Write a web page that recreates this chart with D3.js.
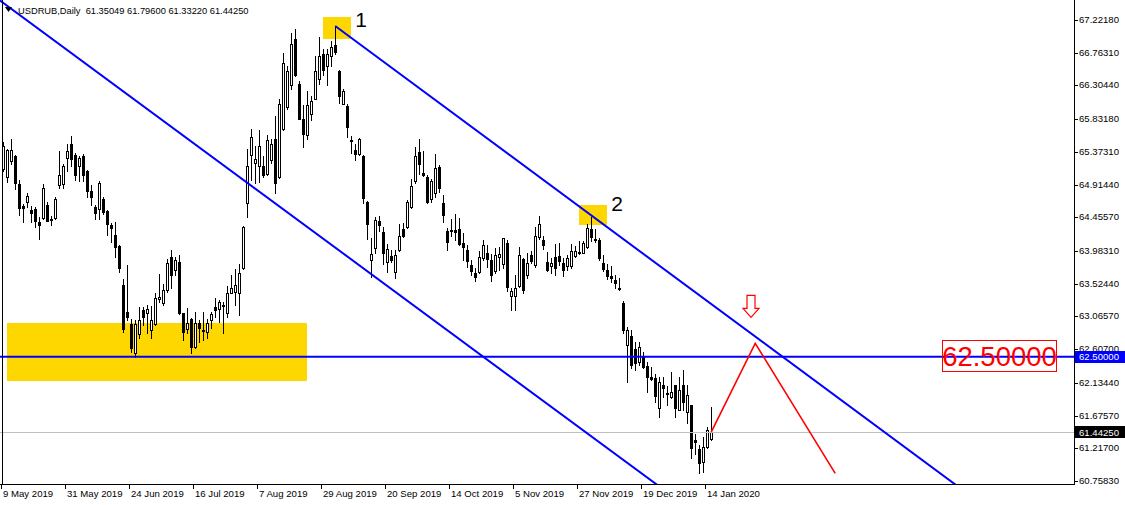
<!DOCTYPE html>
<html><head><meta charset="utf-8">
<script src="https://cdn.jsdelivr.net/npm/d3@7/dist/d3.min.js"></script>
<style>
html,body{margin:0;padding:0;background:#fff;}
svg{display:block;}
text{font-family:"Liberation Sans",Arial,sans-serif;}
</style></head><body>
<svg id="chart" width="1125" height="505"></svg>
<script>
// ---------------- data ----------------
const symbolTitle = "USDRUB,Daily";
const openP = [65.13,65.02,65.24,65.32,64.92,64.61,64.67,64.56,64.57,64.39,64.44,64.63,64.43,64.44,64.91,64.92,65.28,65.49,65.33,65.18,
65.31,65.10,64.83,64.60,64.57,64.71,64.55,64.35,64.21,64.05,63.51,63.13,62.96,62.55,62.82,63.16,63.11,62.87,62.96,63.31,
63.26,63.44,63.90,63.71,63.83,63.11,62.89,63.03,62.64,62.97,62.87,62.85,63.02,63.20,63.17,63.22,63.11,63.40,63.41,63.40,
63.74,64.65,65.33,65.21,65.17,65.18,65.06,65.26,65.56,65.02,65.70,66.00,66.31,66.96,66.32,65.84,65.61,65.90,66.12,66.39,
66.75,66.57,66.72,66.87,66.51,66.05,66.02,65.54,65.40,65.34,65.32,64.67,63.86,64.02,64.40,64.25,63.83,63.91,63.69,64.00,
64.29,64.32,64.60,64.96,65.37,65.07,65.02,64.71,64.79,65.16,64.66,64.26,64.27,64.28,64.29,64.09,64.00,63.78,63.67,63.69,
63.88,63.95,63.86,63.70,63.90,63.80,64.09,63.35,63.35,63.49,63.87,63.65,63.93,63.79,64.18,64.14,63.83,63.77,63.90,63.91,
63.82,63.77,63.77,63.91,63.97,63.96,64.04,64.29,64.15,64.14,63.81,63.72,63.63,63.57,63.46,63.25,62.67,62.79,62.61,62.43,
62.51,62.37,62.21,62.20,61.78,62.10,61.99,61.93,62.10,61.76,62.10,61.73,61.82,61.33,61.21,61.02,61.23,61.35049];
const highP = [65.51,65.41,65.55,65.33,64.98,64.64,64.79,64.61,64.60,64.46,64.92,64.67,64.47,64.74,65.39,65.20,65.49,65.60,65.36,65.31,
65.35,65.12,64.91,64.63,64.96,64.74,64.56,64.38,64.39,64.07,63.59,63.79,63.03,63.02,63.20,63.20,63.23,63.21,63.40,63.66,
63.52,63.87,64.00,63.90,63.93,63.12,63.18,63.04,63.13,63.02,63.13,63.03,63.13,63.33,63.30,63.27,63.49,63.64,63.73,63.80,
64.33,65.42,65.69,65.45,65.68,65.31,65.61,65.55,65.87,66.12,66.76,66.58,67.04,67.09,66.36,66.03,66.22,66.16,66.72,66.98,
66.81,66.81,66.93,67.14,66.52,66.26,66.05,65.60,65.49,65.57,65.33,64.68,64.16,64.46,64.47,64.32,64.08,64.00,64.00,64.36,
64.37,64.70,64.99,65.44,65.56,65.38,65.05,64.99,65.35,65.19,64.77,64.31,64.43,64.50,64.44,64.23,64.07,63.86,63.75,63.98,
64.14,64.07,63.94,64.02,64.04,64.17,64.14,63.47,63.65,64.04,63.89,63.95,63.98,64.32,64.47,64.20,63.97,63.88,64.08,64.10,
63.88,63.93,64.08,64.05,64.12,64.12,64.36,64.46,64.29,64.16,63.93,63.80,63.77,63.65,63.61,63.28,62.92,62.87,62.71,62.71,
62.57,62.43,62.35,62.26,62.21,62.22,62.09,62.29,62.11,62.22,62.32,62.10,61.83,61.42,61.26,61.38,61.52,61.796];
const lowP = [65.10,64.95,65.20,64.85,64.49,64.39,64.60,64.39,64.32,64.15,64.43,64.40,64.35,64.43,64.86,64.87,65.11,65.17,64.98,64.96,
64.96,64.74,64.63,64.43,64.43,64.50,64.21,64.11,63.90,63.69,62.85,63.02,62.56,62.49,62.76,62.95,62.84,62.77,62.95,63.27,
63.23,63.41,63.47,63.65,63.10,62.74,62.83,62.55,62.63,62.71,62.74,62.76,62.90,63.06,62.99,62.83,63.06,63.39,63.23,63.09,
63.73,64.46,64.98,64.93,64.95,65.02,65.05,65.22,64.79,65.00,65.68,65.98,66.25,66.43,65.83,65.44,65.56,65.82,66.11,66.33,
66.45,66.31,66.57,66.75,66.06,66.04,65.58,65.36,65.26,65.33,64.66,64.15,63.62,63.95,64.27,63.80,63.69,63.83,63.60,63.99,
64.18,64.30,64.58,64.94,65.06,65.04,64.66,64.67,64.74,64.81,64.39,64.00,64.20,64.14,64.07,63.86,63.76,63.65,63.56,63.67,
63.86,63.76,63.56,63.67,63.72,63.75,63.42,63.16,63.16,63.48,63.40,63.60,63.82,63.76,64.15,64.01,63.70,63.67,63.65,63.79,
63.63,63.71,63.75,63.90,63.94,63.95,64.02,64.12,64.11,63.86,63.70,63.59,63.55,63.47,63.44,62.83,62.15,62.34,62.32,62.39,
62.34,62.00,62.17,61.87,61.66,61.94,61.82,61.92,61.66,61.75,61.75,61.57,61.08,61.14,60.87,60.88,61.22,61.3322];
const closeP = [65.46,65.40,65.40,64.94,64.59,64.59,64.75,64.52,64.41,64.35,64.86,64.41,64.42,64.71,65.05,65.18,65.39,65.27,65.05,65.28,
65.05,64.83,64.74,64.51,64.94,64.53,64.36,64.30,64.04,63.74,62.89,63.06,62.62,62.96,63.02,63.06,63.17,63.02,63.32,63.34,
63.44,63.81,63.64,63.86,63.12,62.85,62.97,62.64,62.98,62.91,62.86,62.98,63.10,63.16,63.27,63.21,63.40,63.46,63.51,63.67,
64.32,65.17,65.58,65.27,65.45,65.05,65.54,65.48,64.93,66.05,66.62,66.50,66.89,66.45,65.84,65.63,66.03,66.09,66.51,66.72,
66.52,66.75,66.84,66.77,66.16,66.23,65.72,65.52,65.34,65.56,64.72,64.36,63.94,64.42,64.35,63.95,64.01,63.86,63.93,64.19,
64.19,64.67,64.89,65.31,65.20,65.05,64.67,64.97,65.14,64.86,64.49,64.11,64.28,64.25,64.08,64.04,63.84,63.70,63.62,63.90,
64.07,63.87,63.64,63.93,63.94,64.16,63.48,63.42,63.47,63.93,63.43,63.81,63.84,64.19,64.36,64.07,63.71,63.81,63.74,63.84,
63.71,63.89,63.98,63.99,63.96,64.09,64.30,64.18,64.14,63.88,63.73,63.63,63.61,63.53,63.45,62.87,62.87,62.39,62.41,62.64,
62.36,62.22,62.19,61.95,62.15,62.06,61.98,62.01,61.78,62.03,61.87,61.96,61.22,61.30,61.01,61.23,61.47,61.4425];
const dateLabels = ["9 May 2019","31 May 2019","24 Jun 2019","16 Jul 2019","7 Aug 2019","29 Aug 2019",
  "20 Sep 2019","14 Oct 2019","5 Nov 2019","27 Nov 2019","19 Dec 2019","14 Jan 2020"];
const barsPerDateLabel = 16;
const priceTicks = [67.2218,66.7631,66.3044,65.8318,65.3731,64.9144,64.4557,63.9831,63.5244,63.0657,62.6070,62.1344,61.6757,61.2170,60.7583];
const levelPrice = 62.5;
const channelLower = [[0, 67.462],[150, 61.262]];
const channelUpper = [[83, 67.137],[180, 63.115]];
const forecastPath = [[177, 61.4425],[188, 62.689],[208, 60.866]];
const zones = [[1, 76, 62.97, 62.16],[80, 87, 67.26, 66.955],[144, 151, 64.63, 64.347]];
const noteTexts = ["1","2"];
const noteBars = [88, 152];
const notePrices = [67.124, 64.544];
const arrowBar = 187, arrowPrice = 63.053;

// ---------------- layout ----------------
const W = 1125, H = 505;
const plotR = 1074, plotB = 484;
const svg = d3.select("#chart");
const fmt = d3.format(".5f");

const x = d3.scaleLinear().domain([-0.8, plotR/4 - 0.8]).range([0, plotR]);
const y = d3.scaleLinear().domain([60.7583, 67.2218]).range([481, 20]);

svg.append("rect").attr("width", W).attr("height", H).attr("fill", "#fff");
svg.append("defs").append("clipPath").attr("id","plot")
  .append("rect").attr("x",0).attr("y",0).attr("width",plotR).attr("height",plotB);

const plot = svg.append("g").attr("clip-path","url(#plot)");

// yellow zones (background)
plot.selectAll("rect.zone").data(zones).enter().append("rect")
  .attr("class","zone")
  .attr("x", d => Math.round(x(d[0])))
  .attr("width", d => Math.round(x(d[1])) - Math.round(x(d[0])))
  .attr("y", d => Math.round(y(d[2])))
  .attr("height", d => Math.round(y(d[3])) - Math.round(y(d[2])))
  .attr("fill", "#FFD700");

// candles
const bars = d3.range(openP.length).map(i => ({i, o: openP[i], h: highP[i], l: lowP[i], c: closeP[i]}));
const cg = plot.append("g").attr("shape-rendering","crispEdges");
bars.forEach(b => {
  const cx = Math.round(x(b.i));
  const yh = Math.round(y(b.h)), yl = Math.round(y(b.l));
  cg.append("rect").attr("x", cx).attr("y", yh).attr("width", 1).attr("height", Math.max(1, yl - yh + 1)).attr("fill", "#000");
  const top = Math.round(y(Math.max(b.o, b.c))), bot = Math.round(y(Math.min(b.o, b.c)));
  if (bot - top < 1) {
    cg.append("rect").attr("x", cx - 1).attr("y", top).attr("width", 3).attr("height", 1).attr("fill", "#000");
  } else if (b.c < b.o) {
    cg.append("rect").attr("x", cx - 1).attr("y", top).attr("width", 3).attr("height", bot - top + 1).attr("fill", "#000");
  } else {
    cg.append("rect").attr("x", cx - 0.5).attr("y", top + 0.5).attr("width", 2).attr("height", bot - top)
      .attr("fill", "#fff").attr("stroke", "#000").attr("stroke-width", 1);
  }
});

// last price line
const yLast = Math.round(y(closeP[closeP.length-1]));
plot.append("line").attr("x1",0).attr("x2",plotR).attr("y1",yLast+0.5).attr("y2",yLast+0.5)
  .attr("stroke","#c0c0c0").attr("stroke-width",1);

// channel lines (rays)
function ray(pts, fromBar, toBar){
  const [a,b] = pts; const s = (b[1]-a[1])/(b[0]-a[0]);
  return [[fromBar, a[1] + s*(fromBar-a[0])],[toBar, a[1] + s*(toBar-a[0])]];
}
const lineGen = d3.line().x(d => x(d[0])).y(d => y(d[1]));
[ray(channelLower, -2, 400), ray(channelUpper, channelUpper[0][0], 400)].forEach(p => {
  plot.append("path").attr("d", lineGen(p)).attr("fill","none").attr("stroke","#0000FF").attr("stroke-width",2);
});

// horizontal level
const yLvl = y(levelPrice);
plot.append("line").attr("x1",0).attr("x2",plotR).attr("y1",yLvl).attr("y2",yLvl)
  .attr("stroke","#0000FF").attr("stroke-width",2);

// forecast zigzag
plot.append("path").attr("d", lineGen(forecastPath)).attr("fill","none")
  .attr("stroke","#FF0000").attr("stroke-width",1.6);

// arrow
const ax = Math.round(x(arrowBar)), ay = y(arrowPrice);
plot.append("path")
  .attr("d", `M${ax},${ay} L${ax-8},${ay-9} L${ax-4},${ay-9} L${ax-4},${ay-22} L${ax+4},${ay-22} L${ax+4},${ay-9} L${ax+8},${ay-9} Z`)
  .attr("fill","#fff").attr("stroke","#FF0000").attr("stroke-width",1.2);

// numbered notes
noteTexts.forEach((t,k) => {
  plot.append("text").attr("x", x(noteBars[k])).attr("y", y(notePrices[k]))
    .attr("font-size", 21).attr("fill","#000").text(t);
});

// red price label
const lblG = svg.append("g");
lblG.append("rect").attr("x",942.5).attr("y",340.5).attr("width",114).attr("height",31)
  .attr("fill","none").attr("stroke","#FF0000").attr("stroke-width",1);
lblG.append("text").attr("x",999.5).attr("y",366).attr("text-anchor","middle")
  .attr("font-size",27.5).attr("fill","#FF0000").text(fmt(levelPrice));

// header
svg.append("path").attr("d","M5,7 L12,7 L8.5,12 Z").attr("fill","#000");
svg.append("text").attr("x",18).attr("y",14).attr("font-size",9.3).attr("fill","#000")
  .style("white-space","pre")
  .text(symbolTitle + "  " + [openP, highP, lowP, closeP].map(a => fmt(a[a.length-1])).join(" "));

// axes frame
const ax2 = svg.append("g").attr("shape-rendering","crispEdges");
ax2.append("line").attr("x1",2.5).attr("x2",2.5).attr("y1",0).attr("y2",plotB+1).attr("stroke","#000");
ax2.append("line").attr("x1",plotR+0.5).attr("x2",plotR+0.5).attr("y1",0).attr("y2",plotB+1).attr("stroke","#000");
ax2.append("line").attr("x1",0).attr("x2",plotR+1).attr("y1",plotB+0.5).attr("y2",plotB+0.5).attr("stroke","#000");

// right price axis (the 62.60700 label sits under the level tag, as in the reference)
priceTicks.forEach(p => {
  const yy = Math.round(y(p));
  ax2.append("line").attr("x1",plotR+1).attr("x2",plotR+4).attr("y1",yy+0.5).attr("y2",yy+0.5).attr("stroke","#000");
  svg.append("text").attr("x",plotR+5).attr("y",yy).attr("dy","0.35em").attr("font-size",9.6).attr("fill","#000").text(fmt(p));
});

// price tags
function tag(p, bg){
  const yy = y(p);
  svg.append("rect").attr("x",plotR+1).attr("y",Math.round(yy)-6).attr("width",W-plotR-1).attr("height",12).attr("fill",bg);
  svg.append("text").attr("x",plotR+5).attr("y",yy).attr("dy","0.35em").attr("font-size",9.6).attr("fill","#fff").text(fmt(p));
}
tag(levelPrice, "#0000FF");
tag(closeP[closeP.length-1], "#000");

// bottom time axis
dateLabels.forEach((lab,k) => {
  const bx = Math.round(x(k*barsPerDateLabel)) - 2;
  ax2.append("line").attr("x1",bx+0.5).attr("x2",bx+0.5).attr("y1",plotB).attr("y2",plotB+5).attr("stroke","#000");
  svg.append("text").attr("x",bx+2).attr("y",497).attr("font-size",9.6).attr("fill","#000").text(lab);
});
</script>
</body></html>
